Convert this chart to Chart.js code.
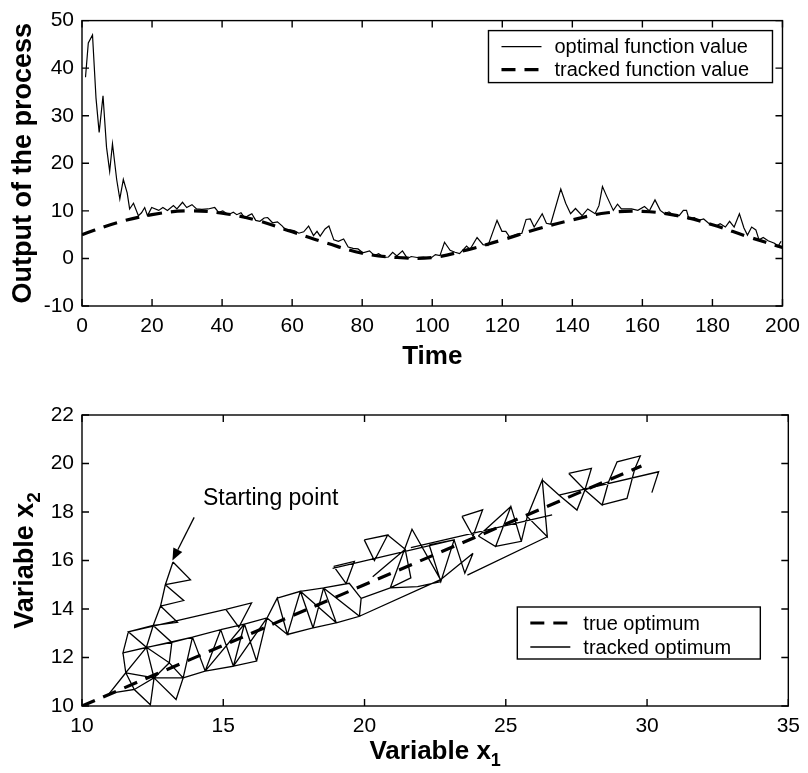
<!DOCTYPE html>
<html>
<head>
<meta charset="utf-8">
<script src="https://cdn.jsdelivr.net/npm/chart.js@4.4.1/dist/chart.umd.min.js"></script>
<style>
  html, body { margin: 0; padding: 0; background: #fff; }
  body { width: 808px; height: 773px; position: relative; overflow: hidden; }
  canvas { position: absolute; left: 0; }
  #top { top: 0; }
  #bot { top: 386px; }
</style>
</head>
<body>
<canvas id="top" width="808" height="386" style="width:808px;height:386px"></canvas>
<canvas id="bot" width="808" height="387" style="width:808px;height:387px"></canvas>
<script>
const FONT = "'Liberation Sans', Arial, Helvetica, sans-serif";

// ---- top panel: output of the process vs time ----
const timeTicks = [0, 20, 40, 60, 80, 100, 120, 140, 160, 180, 200];
const outputTicks = [-10, 0, 10, 20, 30, 40, 50];

// optimal function value (noisy)
const optTime = [
  1, 1.8, 3, 4, 4.9, 6, 7, 7.9, 8.7, 9.9,
  10.8, 11.8, 12.9, 13.6, 14.7, 16.1, 17, 17.9, 18.7, 19.9,
  21.9, 23.1, 24.4, 26.1, 27.1, 28.7, 29.9, 31.4, 32.7, 34.2,
  36, 37.9, 39, 40.2, 41.8, 43.2, 44.2, 45.4, 46.5, 47.5,
  48.5, 49.6, 50.8, 52, 53, 54.4, 55.8, 57.2, 58.1, 59.5,
  60.7, 61.9, 63.3, 64.7, 66.1, 67.1, 68, 69.4, 70.5, 71.9,
  73.2, 74.7, 76, 77.4, 78.8, 80.2, 82.1, 83.5, 84.7, 86.3,
  87.5, 88.7, 89.9, 91.5, 92.9, 94, 95.7, 97.5, 99.5, 100.9,
  102.2, 103.5, 105.1, 106.5, 107.8, 109.8, 110.8, 112.8, 114.5, 115.9,
  118.5, 119.9, 121, 122.1, 124, 125.6, 126.8, 128, 129.1, 131.4,
  132.6, 133.8, 136.7, 138.1, 139.5, 140.9, 142.8, 144.4, 146.5, 147.6,
  148.6, 149.8, 151.7, 152.9, 154, 155.9, 156.9, 158.7, 160.6, 162,
  163.6, 165.1, 166.4, 167.6, 169.1, 170.5, 171.7, 172.6, 173.3, 174.8,
  176.1, 177.5, 179.4, 181.3, 182.2, 183.7, 184.9, 186.2, 187.7, 189,
  190, 191.2, 192.4, 193.3, 194.5, 195.9, 197.7, 198.7, 199.6
];
const optValue = [
  38.1, 45.3, 47.0, 33.7, 26.5, 34.2, 23.4, 18.3, 24.1, 16.6,
  12.5, 16.6, 13.8, 10.4, 11.6, 9.0, 9.6, 10.7, 9.0, 10.7,
  10.1, 10.7, 10.1, 11.1, 10.4, 11.8, 10.7, 11.3, 10.4, 10.3,
  10.4, 10.7, 9.7, 10.0, 9.2, 9.7, 9.2, 9.6, 8.5, 9.0,
  9.4, 8.0, 7.8, 8.5, 8.6, 7.5, 7.7, 6.8, 6.0, 6.0,
  5.8, 5.3, 5.6, 6.8, 4.8, 5.7, 4.7, 6.2, 6.8, 3.9,
  3.6, 4.1, 2.4, 2.1, 2.0, 1.2, 1.6, 0.6, 1.0, 0.2,
  0.3, 1.3, 0.5, 1.6, 0.0, 0.4, 0.2, 0.3, 0.0, 0.8,
  0.6, 3.4, 1.7, 1.3, 1.0, 2.6, 1.9, 4.4, 2.9, 2.7,
  8.0, 5.7, 5.7, 4.5, 5.0, 5.3, 8.2, 8.3, 6.6, 9.4,
  7.4, 7.2, 14.6, 11.6, 9.4, 10.5, 9.0, 10.4, 9.4, 11.1,
  15.1, 13.1, 10.1, 11.4, 10.4, 10.4, 10.4, 10.1, 10.9, 10.0,
  12.3, 10.1, 9.4, 9.8, 9.0, 9.0, 10.1, 10.1, 8.3, 8.6,
  8.0, 8.3, 7.1, 6.9, 7.3, 6.6, 7.8, 6.6, 9.4, 6.4,
  4.9, 6.6, 6.0, 3.9, 4.4, 3.7, 3.2, 2.5, 3.6
];

// tracked function value (smooth)
const trackTime = [0, 10, 20, 30, 40, 50, 60, 70, 80, 90, 100, 110, 120, 130, 140, 150, 160, 170, 180, 190, 200];
const trackValue = [5.0, 7.5, 9.2, 10.0, 9.5, 8.0, 5.6, 3.2, 1.1, 0.2, 0.2, 1.8, 3.9, 6.2, 8.1, 9.6, 9.9, 9.0, 7.1, 4.6, 2.3];

// ---- bottom panel: x1 / x2 plane ----
const x1Ticks = [10, 15, 20, 25, 30, 35];
const x2Ticks = [10, 12, 14, 16, 18, 20, 22];

const trueX1 = [10, 29.8];
const trueX2 = [10, 19.9];

// tracked optimum: simplex triangles, null separates strokes
const trackedPath = [
  [13.22, 15.94], [13.84, 15.20], [12.95, 15.00], [13.22, 15.94], null,
  [12.95, 15.00], [13.60, 14.35], [12.78, 14.12], [12.95, 15.00], null,
  [12.78, 14.12], [13.38, 13.45], [12.52, 13.32], [12.78, 14.12], null,
  [12.52, 13.32], [11.64, 13.06], [12.28, 12.42], [12.52, 13.32], null,
  [11.64, 13.06], [11.45, 12.19], [12.28, 12.42], null,
  [12.52, 13.32], [13.18, 12.62], [12.28, 12.42], null,
  [11.45, 12.19], [11.55, 11.37], [12.28, 12.42], null,
  [11.55, 11.37], [10.97, 10.52], [11.85, 10.68], [11.55, 11.37], null,
  [11.55, 11.37], [12.55, 11.16], [11.85, 10.68], [12.42, 10.05], [12.55, 11.16], null,
  [12.28, 12.42], [13.09, 11.78], [12.55, 11.16], [12.28, 12.42], null,
  [12.55, 11.16], [13.33, 10.27], [13.58, 11.16], [12.55, 11.16], null,
  [13.09, 11.78], [13.58, 11.16], [13.91, 12.84], [13.18, 12.62], [13.09, 11.78], null,
  [11.64, 13.06], [15.09, 13.98], null,
  [11.45, 12.19], [13.91, 12.84], null,
  [13.91, 12.84], [14.36, 11.44], [13.58, 11.16], null,
  [13.91, 12.84], [14.91, 13.15], [14.36, 11.44], null,
  [14.91, 13.15], [15.36, 11.64], [14.36, 11.44], null,
  [14.91, 13.15], [15.75, 13.38], [15.36, 11.64], null,
  [15.75, 13.38], [16.18, 11.85], [15.36, 11.64], null,
  [15.75, 13.38], [16.55, 13.63], [16.18, 11.85], null,
  [14.36, 11.44], [15.75, 13.38], null,
  [15.36, 11.64], [16.55, 13.63], null,
  [15.09, 13.98], [16.00, 14.25], [15.55, 13.25], [15.09, 13.98], null,
  [16.55, 13.63], [16.91, 14.45], [17.27, 12.95], [16.55, 13.63], null,
  [16.91, 14.45], [17.73, 14.73], [17.27, 12.95], [18.18, 13.22], [17.73, 14.73], null,
  [17.73, 14.73], [18.55, 14.87], [19.00, 13.43], [18.18, 13.22], [18.55, 14.87], null,
  [17.73, 14.73], [19.00, 13.43], null,
  [18.55, 14.87], [19.82, 13.70], [19.00, 13.43], null,
  [18.91, 15.76], [19.64, 15.96], [19.35, 15.05], [18.91, 15.76], null,
  [18.55, 14.87], [19.46, 15.06], [19.88, 14.44], [19.82, 13.70], null,
  [18.87, 15.68], [23.17, 16.85], null,
  [19.82, 13.70], [22.69, 15.21], null,
  [19.88, 14.44], [20.91, 14.87], [21.88, 14.92], [22.70, 15.13], null,
  [19.99, 16.85], [20.82, 17.05], [20.35, 16.00], [19.99, 16.85], null,
  [20.91, 14.87], [21.68, 17.29], [22.69, 15.21], null,
  [20.29, 15.33], [21.44, 16.46], [20.82, 17.05], null,
  [20.91, 14.87], [21.64, 15.28], [21.44, 16.46], null,
  [22.29, 16.64], [23.17, 16.85], [22.70, 15.13], [22.29, 16.64], null,
  [21.64, 16.53], [26.64, 17.88], null,
  [23.45, 17.82], [24.18, 18.09], [23.84, 17.00], [23.45, 17.82], null,
  [23.17, 16.85], [23.55, 15.48], [23.84, 16.30], null,
  [22.69, 15.21], [23.84, 16.30], null,
  [24.03, 17.01], [24.64, 16.58], [25.18, 18.23], [25.55, 16.79], [24.64, 16.58], null,
  [24.03, 17.01], [25.18, 18.23], null,
  [23.64, 15.40], [26.47, 16.98], null,
  [25.55, 16.79], [25.76, 17.81], null,
  [25.76, 17.81], [26.29, 19.32], [26.47, 16.98], [25.76, 17.81], null,
  [26.29, 19.32], [26.88, 18.70], null,
  [27.23, 19.59], [28.03, 19.80], [27.80, 18.91], [27.23, 19.59], null,
  [26.88, 18.70], [27.52, 18.08], [27.80, 18.91], null,
  [27.80, 18.91], [28.41, 18.29], [28.64, 19.25], [27.80, 18.91], null,
  [28.64, 19.25], [28.94, 20.07], [29.76, 20.31], [29.56, 19.76], null,
  [29.56, 19.76], [29.29, 18.56], [28.41, 18.29], null,
  [26.88, 18.70], [30.41, 19.66], [30.17, 18.80]
];

// ---- helpers ----
const toXY = (xs, ys) => xs.map((x, i) => ({ x, y: ys[i] }));
const toPts = list => list.map(p => p ? { x: p[0], y: p[1] } : { x: null, y: null });
const setTicks = values => scale => { scale.ticks = values.map(v => ({ value: v })); };

// box with inward ticks on all four sides
const frame = {
  id: 'frame',
  afterDatasetsDraw(chart) {
    const { ctx, chartArea: a, scales: { x, y } } = chart;
    ctx.save();
    ctx.strokeStyle = '#000';
    ctx.lineWidth = 1.4;
    ctx.setLineDash([]);
    ctx.strokeRect(a.left, a.top, a.right - a.left, a.bottom - a.top);
    ctx.beginPath();
    const L = 7;
    for (const t of x.ticks) {
      const px = x.getPixelForValue(t.value);
      ctx.moveTo(px, a.bottom); ctx.lineTo(px, a.bottom - L);
      ctx.moveTo(px, a.top); ctx.lineTo(px, a.top + L);
    }
    for (const t of y.ticks) {
      const py = y.getPixelForValue(t.value);
      ctx.moveTo(a.left, py); ctx.lineTo(a.left + L, py);
      ctx.moveTo(a.right, py); ctx.lineTo(a.right - L, py);
    }
    ctx.stroke();
    ctx.restore();
  }
};

function drawTitle(ctx, parts, cx, cy, rot, size) {
  ctx.save();
  ctx.translate(cx, cy);
  ctx.rotate(rot);
  ctx.fillStyle = '#000';
  ctx.textBaseline = 'alphabetic';
  ctx.textAlign = 'left';
  const sub = Math.round(size * 0.7);
  ctx.font = `bold ${size}px ${FONT}`;
  const w1 = ctx.measureText(parts[0]).width;
  ctx.font = `bold ${sub}px ${FONT}`;
  const w2 = parts[1] ? ctx.measureText(parts[1]).width : 0;
  const x0 = -(w1 + w2) / 2;
  ctx.font = `bold ${size}px ${FONT}`;
  ctx.fillText(parts[0], x0, size * 0.35);
  if (parts[1]) {
    ctx.font = `bold ${sub}px ${FONT}`;
    ctx.fillText(parts[1], x0 + w1, size * 0.35 + 7);
  }
  ctx.restore();
}

// axis titles, legend box, annotation
const decor = {
  id: 'decor',
  afterDraw(chart, args, o) {
    const { ctx, chartArea: a, scales: { x, y } } = chart;
    drawTitle(ctx, o.xTitle, (a.left + a.right) / 2, o.xTitleY, 0, 26);
    drawTitle(ctx, o.yTitle, o.yTitleX, (a.top + a.bottom) / 2, -Math.PI / 2, o.yTitleSize);

    // legend
    const lg = o.legend;
    const bx = a.right - lg.right - lg.w;
    const by = lg.top != null ? a.top + lg.top : a.bottom - lg.bottom - lg.h;
    ctx.save();
    ctx.fillStyle = '#fff';
    ctx.fillRect(bx, by, lg.w, lg.h);
    ctx.strokeStyle = '#000';
    ctx.lineWidth = 1.4;
    ctx.strokeRect(bx, by, lg.w, lg.h);
    ctx.font = `20px ${FONT}`;
    ctx.textBaseline = 'middle';
    ctx.fillStyle = '#000';
    lg.rows.forEach((dsIndex, i) => {
      const ds = chart.data.datasets[dsIndex];
      const ry = by + lg.rowY[i];
      ctx.beginPath();
      ctx.lineWidth = ds.borderWidth;
      ctx.setLineDash(ds.borderDash || []);
      ctx.moveTo(bx + 13, ry);
      ctx.lineTo(bx + 53, ry);
      ctx.stroke();
      ctx.setLineDash([]);
      ctx.fillText(ds.label, bx + 66, ry + 1);
    });
    ctx.restore();

    // annotation with arrow
    if (o.note) {
      const n = o.note;
      ctx.save();
      ctx.fillStyle = '#000';
      ctx.strokeStyle = '#000';
      ctx.font = `23px ${FONT}`;
      ctx.textBaseline = 'alphabetic';
      ctx.fillText(n.text, x.getPixelForValue(n.x), y.getPixelForValue(n.y));
      const x0 = x.getPixelForValue(n.from[0]), y0 = y.getPixelForValue(n.from[1]);
      const x1 = x.getPixelForValue(n.to[0]), y1 = y.getPixelForValue(n.to[1]);
      const ang = Math.atan2(y1 - y0, x1 - x0);
      const hl = 12, hw = 5;
      ctx.lineWidth = 1.3;
      ctx.beginPath();
      ctx.moveTo(x0, y0);
      ctx.lineTo(x1 - hl * Math.cos(ang), y1 - hl * Math.sin(ang));
      ctx.stroke();
      ctx.beginPath();
      ctx.moveTo(x1, y1);
      ctx.lineTo(x1 - hl * Math.cos(ang) + hw * Math.sin(ang), y1 - hl * Math.sin(ang) - hw * Math.cos(ang));
      ctx.lineTo(x1 - hl * Math.cos(ang) - hw * Math.sin(ang), y1 - hl * Math.sin(ang) + hw * Math.cos(ang));
      ctx.closePath();
      ctx.fill();
      ctx.restore();
    }
  }
};

function axis(min, max, ticks, fitProp, fitVal) {
  return {
    type: 'linear',
    min, max,
    afterBuildTicks: setTicks(ticks),
    afterFit: s => { s[fitProp] = fitVal; },
    grid: { display: false, drawTicks: false },
    border: { display: false },
    ticks: { color: '#000', font: { family: FONT, size: 21 }, padding: 8 }
  };
}

Chart.defaults.animation = false;
Chart.defaults.font.family = FONT;

new Chart(document.getElementById('top'), {
  type: 'scatter',
  data: {
    datasets: [
      {
        label: 'optimal function value',
        data: toXY(optTime, optValue),
        showLine: true,
        borderColor: '#000',
        borderWidth: 1.2,
        pointRadius: 0,
        tension: 0
      },
      {
        label: 'tracked function value',
        data: toXY(trackTime, trackValue),
        showLine: true,
        borderColor: '#000',
        borderWidth: 3.2,
        borderDash: [14, 9],
        pointRadius: 0,
        tension: 0.4
      }
    ]
  },
  options: {
    responsive: false,
    layout: { padding: { left: 0, right: 18, top: 14, bottom: 0 } },
    scales: {
      x: axis(0, 200, timeTicks, 'height', 80),
      y: axis(-10, 50, outputTicks, 'width', 82)
    },
    plugins: {
      legend: { display: false },
      tooltip: { enabled: false },
      decor: {
        xTitle: ['Time'],
        xTitleY: 355,
        yTitle: ['Output of the process'],
        yTitleX: 22,
        yTitleSize: 27,
        legend: { right: 10, top: 10, w: 284, h: 52, rows: [0, 1], rowY: [16, 39] }
      }
    }
  },
  plugins: [frame, decor]
});

new Chart(document.getElementById('bot'), {
  type: 'scatter',
  data: {
    datasets: [
      {
        label: 'true optimum',
        data: toXY(trueX1, trueX2),
        showLine: true,
        borderColor: '#000',
        borderWidth: 3.2,
        borderDash: [14, 9],
        pointRadius: 0
      },
      {
        label: 'tracked optimum',
        data: toPts(trackedPath),
        showLine: true,
        spanGaps: false,
        borderColor: '#000',
        borderWidth: 1.3,
        pointRadius: 0,
        tension: 0
      }
    ]
  },
  options: {
    responsive: false,
    layout: { padding: { left: 0, right: 18, top: 29, bottom: 0 } },
    scales: {
      x: axis(10, 35, x1Ticks, 'height', 67),
      y: axis(10, 22, x2Ticks, 'width', 82)
    },
    plugins: {
      legend: { display: false },
      tooltip: { enabled: false },
      decor: {
        xTitle: ['Variable x', '1'],
        xTitleY: 364,
        yTitle: ['Variable x', '2'],
        yTitleX: 24,
        yTitleSize: 27,
        legend: { right: 28, bottom: 47, w: 243, h: 52, rows: [0, 1], rowY: [16, 40] },
        note: { text: 'Starting point', x: 14.28, y: 18.3, from: [13.97, 17.78], to: [13.2, 16.0] }
      }
    }
  },
  plugins: [frame, decor]
});
</script>
</body>
</html>
